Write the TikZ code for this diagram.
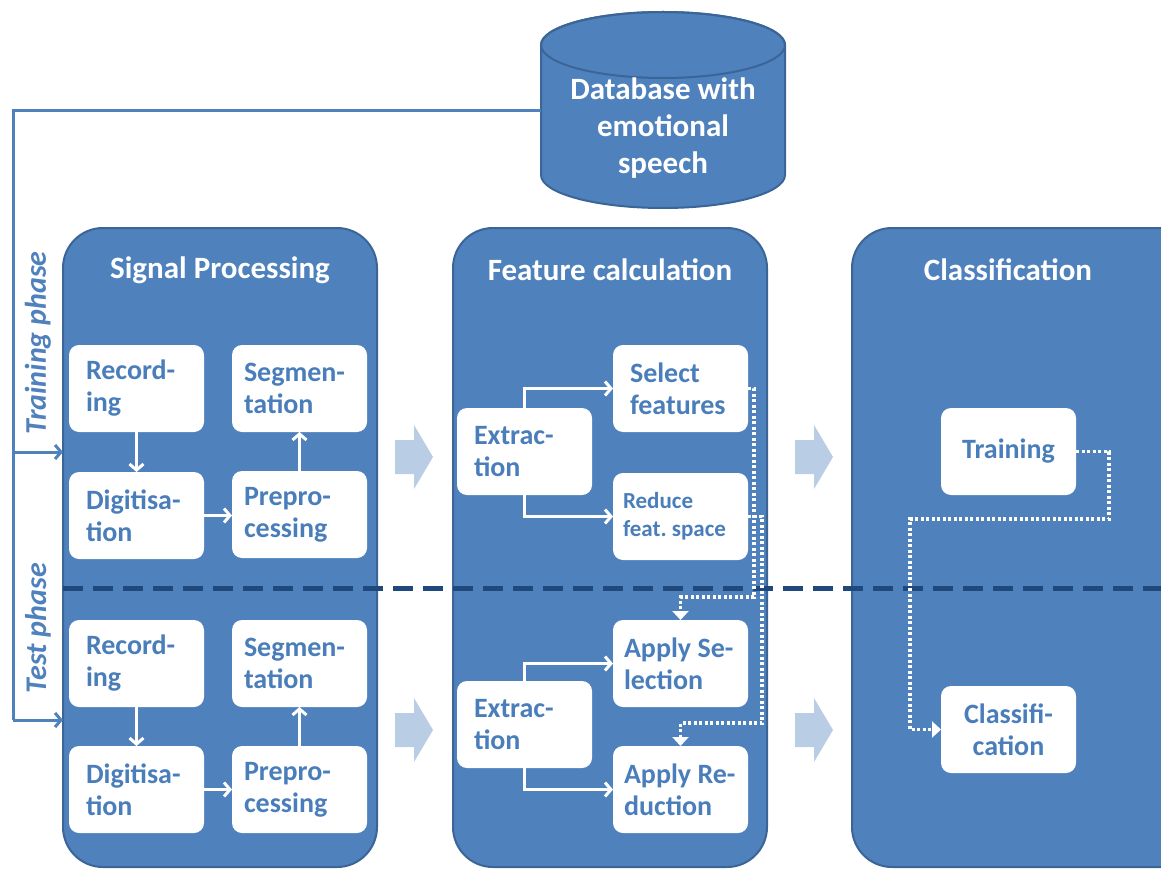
\documentclass[tikz,border=0pt]{standalone}
\usepackage{fontspec}
\setmainfont{Carlito}
\usetikzlibrary{arrows.meta}
\definecolor{panelblue}{HTML}{4F81BD}
\definecolor{paneledge}{HTML}{3B6597}
\definecolor{boxtext}{HTML}{4A7EBB}
\definecolor{divider}{HTML}{1F497D}
\definecolor{paleblue}{HTML}{B9CDE5}
\frenchspacing
\begin{document}
\begin{tikzpicture}[x=1pt,y=-1pt,
  every node/.style={outer sep=0pt},
  panel/.style={draw=paneledge, line width=2pt, fill=panelblue, rounded corners=40pt, anchor=north west, minimum height=639pt},
  paneltitle/.style={text=white, font=\bfseries\fontsize{31}{36}\selectfont},
  stepbox/.style={fill=white, rounded corners=10pt, anchor=north west, minimum height=87pt,
    text width=101pt, inner xsep=17pt, align=flush left, text=boxtext, font=\bfseries\fontsize{28}{32}\selectfont},
  widebox/.style={stepbox, text width=111pt, inner xsep=12pt},
  centerbox/.style={stepbox, align=flush center},
  flow/.style={draw=white, line width=3pt, -{Straight Barb[length=6pt,width=14pt]}},
  handover/.style={draw=white, line width=3.5pt, dash pattern=on 3pt off 2.5pt, -{Triangle[length=9pt,width=16pt]}},
  phaseline/.style={draw=panelblue, line width=3pt},
  phasetip/.style={phaseline, -{Straight Barb[length=6pt,width=14pt]}},
  phaselabel/.style={text=panelblue, rotate=90, font=\bfseries\itshape\fontsize{30}{32}\selectfont},
  stagearrow/.style={fill=paleblue},
  dbstyle/.style={fill=panelblue, draw=paneledge, line width=2pt}
]
\clip (0,0) rectangle (1161,869);
\useasboundingbox (0,0) rectangle (1161,869);

% database cylinder
\path[dbstyle] (541,45) -- (541,175)
  arc[start angle=180, end angle=360, x radius=122pt, y radius=33pt]
  -- (785,45)
  arc[start angle=0, end angle=180, x radius=122pt, y radius=33pt] -- cycle;
\draw[paneledge, line width=2pt] (663,45) ellipse[x radius=122pt, y radius=33pt];
\node[minimum width=244pt, minimum height=160pt, text=white, align=flush center,
  font=\bfseries\fontsize{31}{37}\selectfont] (db) at (663,128)
  {Database with\\emotional\\speech};

% stage panels
\node[panel, minimum width=314pt] (sp) at (63,228) {};
\node[panel, minimum width=314pt] (fc) at (453,228) {};
\node[panel, minimum width=400pt] (cl) at (852,228) {};
\node[paneltitle] (sptitle) at (220,270) {Signal Processing};
\node[paneltitle] (fctitle) at (610,270) {Feature calculation};
\node[paneltitle] (cltitle) at (1008,270) {Classification};

% boundary between training and test phase
\draw[divider, line width=5pt, dash pattern=on 20pt off 10pt] (63,588) -- (1161,588);

% phase inputs from the database
\coordinate (corner) at (13,111);
\coordinate (trainin) at (63,452);
\coordinate (testin) at (63,720);
\draw[phaseline] (corner -| db.west) -- (corner) -- (corner |- testin);
\draw[phasetip] (corner |- trainin) -- (trainin);
\draw[phasetip] (corner |- testin) -- (testin);
\node[phaselabel] (trainlabel) at (38,343) {Training phase};
\node[phaselabel] (testlabel) at (38,628) {Test phase};

% signal processing, training
\node[stepbox] (rec1) at (69,345) {Record-\\ing};
\node[widebox] (seg1) at (232,345) {Segmen-\\tation};
\node[stepbox] (dig1) at (69,472) {Digitisa-\\tion};
\node[widebox] (pre1) at (232,471) {Prepro-\\cessing};
% signal processing, test
\node[stepbox] (rec2) at (69,620) {Record-\\ing};
\node[widebox] (seg2) at (232,620) {Segmen-\\tation};
\node[stepbox] (dig2) at (69,746) {Digitisa-\\tion};
\node[widebox] (pre2) at (232,746) {Prepro-\\cessing};

% feature calculation
\node[stepbox] (ext1) at (457,408) {Extrac-\\tion};
\node[stepbox] (sel) at (613,345) {Select\\features};
\node[stepbox, font=\bfseries\fontsize{23}{28}\selectfont, inner xsep=10pt, text width=115pt] (red) at (613,473) {Reduce\\feat. space};
\node[stepbox] (ext2) at (457,681) {Extrac-\\tion};
\node[stepbox, inner xsep=11pt, text width=113pt] (asel) at (613,620) {Apply Se-\\lection};
\node[stepbox, inner xsep=11pt, text width=113pt] (ared) at (613,746) {Apply Re-\\duction};

% classification
\node[centerbox] (trn) at (941,408) {Training};
\node[centerbox] (cls) at (941,686) {Classifi-\\cation};

% stage transitions
\foreach \x/\y in {395/457, 795/457, 395/730, 795/730}{
  \fill[stagearrow] (\x,\y-17) -- (\x+19,\y-17) -- (\x+19,\y-32) -- (\x+38,\y)
    -- (\x+19,\y+32) -- (\x+19,\y+17) -- (\x,\y+17) -- cycle;
}

% flows inside signal processing
\draw[flow] (rec1) -- (dig1);
\draw[flow] (dig1.east) -- (dig1.east -| pre1.west);
\draw[flow] (pre1) -- (seg1);
\draw[flow] (rec2) -- (dig2);
\draw[flow] (dig2.east) -- (dig2.east -| pre2.west);
\draw[flow] (pre2) -- (seg2);

% flows inside feature calculation
\draw[flow] (ext1.north) |- (sel.west);
\draw[flow] (ext1.south) |- (red.west);
\draw[flow] (ext2.north) |- (asel.west);
\draw[flow] (ext2.south) |- (ared.west);

% trained parameters handed to the test phase
\draw[handover] (sel.east) -| (754,597) -| (asel.north);
\draw[handover] (red.east) -| (762,723) -| (ared.north);
\draw[handover] (trn.east) -| (1109,519) -- (910,519) |- (cls.west);
\end{tikzpicture}
\end{document}
